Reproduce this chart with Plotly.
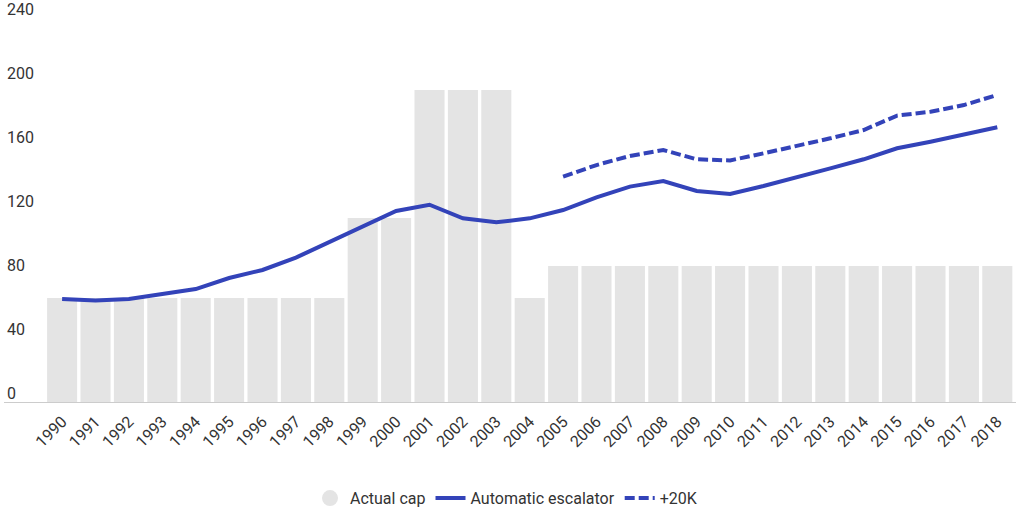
import plotly.graph_objects as go

# Дані
years = [str(y) for y in range(1990, 2019)]
actual_cap = [65, 65, 65, 65, 65, 65, 65, 65, 65, 115, 115, 195, 195, 195, 65,
              85, 85, 85, 85, 85, 85, 85, 85, 85, 85, 85, 85, 85, 85]
escalator = [64.4, 63.5, 64.4, 67.5, 70.6, 77.5, 82.5, 90.2, 99.8, 109.2, 119.4, 123.3, 114.8, 112.3, 114.8,
             120.0, 127.9, 134.6, 138.1, 131.9, 130.0, 135.0, 140.8, 146.0, 151.7, 158.6, 162.7, 166.9, 171.7]
plus_20k_years = [str(y) for y in range(2005, 2019)]
plus_20k = [140.8, 148.1, 153.8, 157.5, 151.7, 151.0, 155.4, 160.0, 164.8, 170.0, 179.0, 181.4, 185.6, 191.9]
y_ticks = [0, 40, 80, 120, 160, 200, 240]

blue = '#3343b9'
grey = '#e4e4e4'

fig = go.Figure()

# Стовпчики (без легенди, легенда - кружечок окремо)
fig.add_trace(go.Bar(x=years, y=actual_cap, marker_color=grey, marker_line_width=0,
                     name='Actual cap', legendgroup='cap', showlegend=False, hoverinfo='x+y'))
fig.add_trace(go.Scatter(x=[None], y=[None], mode='markers', name='Actual cap', legendgroup='cap',
                         marker=dict(symbol='circle', size=20, color=grey)))

fig.add_trace(go.Scatter(x=years, y=escalator, mode='lines', name='Automatic escalator',
                         line=dict(color=blue, width=4)))
fig.add_trace(go.Scatter(x=plus_20k_years, y=plus_20k, mode='lines', name='+20K  ',
                         line=dict(color=blue, width=4, dash='10px,4px')))

fig.update_layout(
    width=1024, height=512,
    margin=dict(l=4, r=8, t=10, b=110),
    plot_bgcolor='white', paper_bgcolor='white',
    font=dict(family='Roboto, sans-serif', size=16, color='#333'),
    bargap=0.1,
    showlegend=True,
    legend=dict(orientation='h', x=0.5, xanchor='center', yref='container', y=0.027, yanchor='middle',
                font=dict(size=16, color='#333'), itemwidth=30, traceorder='normal'),
)

fig.update_xaxes(type='category', range=[-1.74, 28.56], tickangle=-45, showgrid=False,
                 showline=True, linecolor='#cccccc', linewidth=1, ticks='', automargin=False,
                 ticklabelstandoff=3, tickfont=dict(size=16, color='#333'))
fig.update_yaxes(range=[0, 245], tickvals=y_ticks, showgrid=False, zeroline=False, automargin=False,
                 ticklabelposition='inside', ticklabelshift=-9, ticklabelstandoff=0,
                 ticklabeloverflow='allow', tickfont=dict(size=16, color='#333'))

# прибираємо відступ body, щоб графік стояв у куті вікна
fig.write_html("out.html", config={'displayModeBar': False},
               post_script="document.body.style.margin='0';")
